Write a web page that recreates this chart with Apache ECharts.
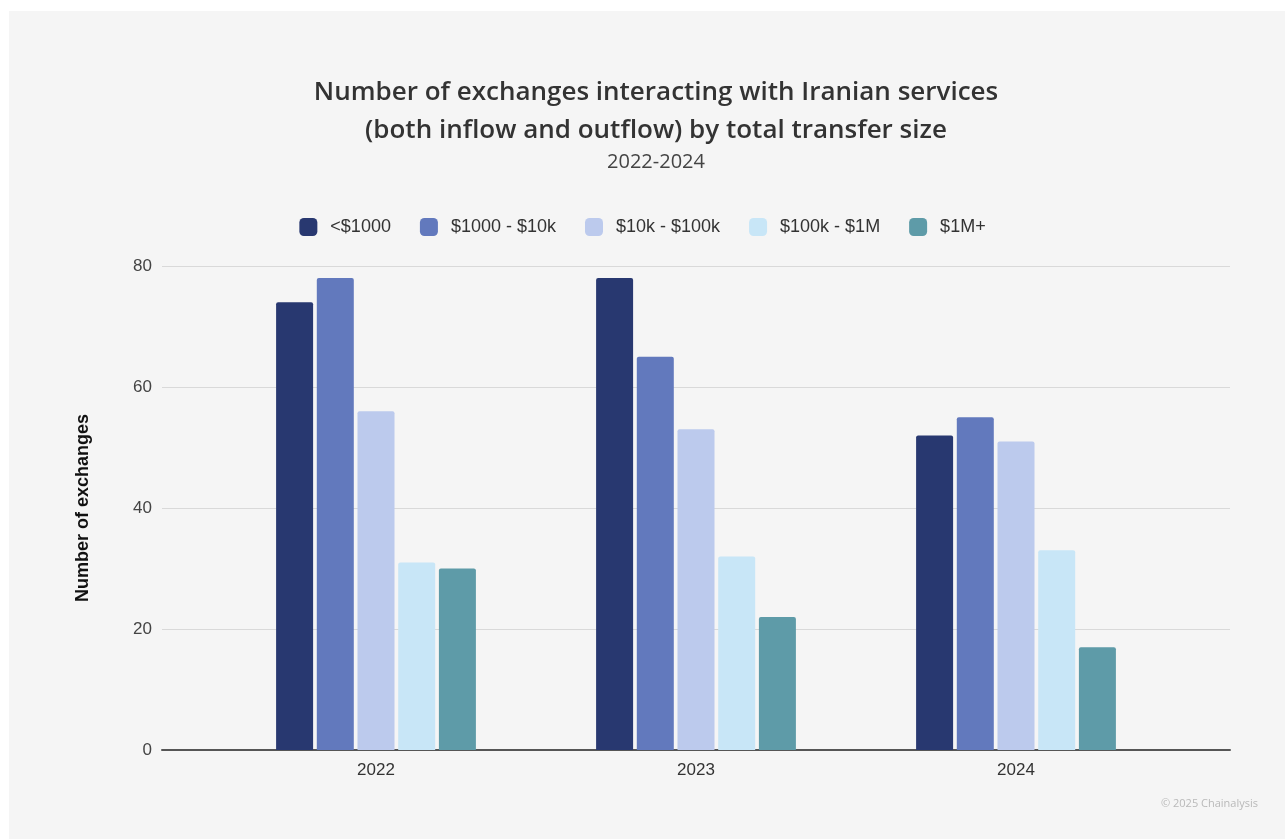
<!DOCTYPE html>
<html>
<head>
<meta charset="utf-8">
<script src="https://cdn.jsdelivr.net/npm/echarts@6/dist/echarts.min.js"></script>
<style>
  html, body { margin: 0; padding: 0; background: #ffffff; }
  #chart { width: 1285px; height: 839px; }
</style>
</head>
<body>
<div id="chart"></div>
<script>
// Years on the category axis
const years = ['2022', '2023', '2024'];

// Transfer-size buckets and their colours
const buckets = ['<$1000', '$1000 - $10k', '$10k - $100k', '$100k - $1M', '$1M+'];
const bucketColors = ['#283870', '#6279bd', '#bccaed', '#c8e6f7', '#5e9ba8'];

// Number of exchanges per bucket, one value per year
const under1k = [74, 78, 52];
const from1kTo10k = [78, 65, 55];
const from10kTo100k = [56, 53, 51];
const from100kTo1m = [31, 32, 33];
const over1m = [30, 22, 17];

// Value-axis ticks
const yTicks = [0, 20, 40, 60, 80];

const seriesValues = [under1k, from1kTo10k, from10kTo100k, from100kTo1m, over1m];

const baseFont = '"Liberation Sans", Arial, sans-serif';
const titleFont = '"Open Sans", Lato, sans-serif';

const chart = echarts.init(document.getElementById('chart'), null, { renderer: 'canvas' });

chart.setOption({
  backgroundColor: 'transparent',
  animation: false,
  graphic: [
    {
      type: 'rect',
      z: -10,
      shape: { x: 9, y: 11, width: 1276, height: 828 },
      style: { fill: '#f5f5f5' },
      silent: true
    },
    {
      type: 'text',
      right: 27,
      top: 798,
      style: {
        text: '\u00a9 2025 Chainalysis',
        font: '11px ' + titleFont,
        fill: '#b9b9b9'
      }
    }
  ],
  title: {
    text: 'Number of exchanges interacting with Iranian services\n(both inflow and outflow) by total transfer size',
    subtext: '2022-2024',
    left: 651,
    top: 69,
    textAlign: 'center',
    itemGap: 2,
    textStyle: {
      fontFamily: titleFont,
      fontSize: 26,
      fontWeight: 600,
      color: '#333333',
      lineHeight: 38
    },
    subtextStyle: {
      fontFamily: titleFont,
      fontSize: 20,
      color: '#444444'
    }
  },
  legend: {
    data: buckets,
    top: 213,
    left: 'center',
    icon: 'roundRect',
    itemWidth: 18,
    itemHeight: 18,
    itemGap: 29,
    textStyle: { fontFamily: baseFont, fontSize: 18, color: '#333333', padding: [0, 0, 0, 8] }
  },
  grid: [
    { left: 162, right: 55, top: 266, bottom: 89, containLabel: false },
    { left: 216, width: 960, top: 266, bottom: 89, containLabel: false }
  ],
  xAxis: [
    {
      type: 'value',
      gridIndex: 0,
      min: 0,
      max: 1,
      axisLine: { show: true, lineStyle: { color: '#555555', width: 2 } },
      axisTick: { show: false },
      axisLabel: { show: false },
      splitLine: { show: false }
    },
    {
      type: 'category',
      gridIndex: 1,
      data: years,
      axisLine: { show: false },
      axisTick: { show: false },
      axisLabel: { fontFamily: baseFont, fontSize: 17, color: '#333333', margin: 12 }
    }
  ],
  yAxis: [
    {
      type: 'value',
      gridIndex: 0,
      min: yTicks[0],
      max: yTicks[yTicks.length - 1],
      interval: 20,
      name: 'Number of exchanges',
      nameLocation: 'middle',
      nameRotate: 90,
      nameGap: 70,
      nameTextStyle: { fontFamily: baseFont, fontSize: 18, fontWeight: 'bold', color: '#111111' },
      axisLine: { show: false },
      axisTick: { show: false },
      axisLabel: { fontFamily: baseFont, fontSize: 17, color: '#444444', margin: 10 },
      splitLine: { lineStyle: { color: '#d9d9d9', width: 1 } }
    },
    {
      type: 'value',
      gridIndex: 1,
      min: yTicks[0],
      max: yTicks[yTicks.length - 1],
      show: false
    }
  ],
  series: buckets.map((name, i) => ({
    name: name,
    type: 'bar',
    xAxisIndex: 1,
    yAxisIndex: 1,
    data: seriesValues[i],
    barWidth: 37,
    barGap: '10%',
    itemStyle: { color: bucketColors[i], borderRadius: [2, 2, 0, 0] }
  }))
});
</script>
</body>
</html>
